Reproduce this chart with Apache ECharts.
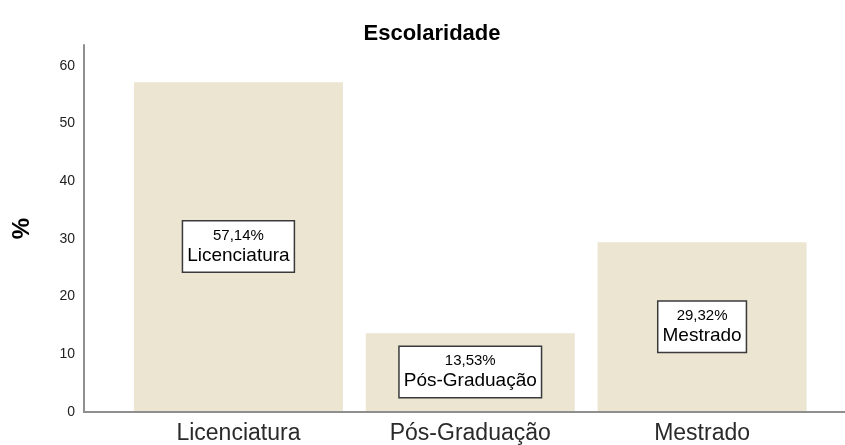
<!DOCTYPE html>
<html>
<head>
<meta charset="utf-8">
<script src="https://cdn.jsdelivr.net/npm/echarts@6/dist/echarts.min.js"></script>
<style>html,body{margin:0;padding:0;background:#fff;}#c{width:845px;height:445px;}</style>
</head>
<body>
<div id="c"></div>
<script>
const categories = ['Licenciatura', 'Pós-Graduação', 'Mestrado'];
const percentValues = [57.14, 13.53, 29.32];
const valueLabels = ['57,14%', '13,53%', '29,32%'];
const yTicks = [0, 10, 20, 30, 40, 50, 60];
const yMax = 63.6;

const chart = echarts.init(document.getElementById('c'), null, {renderer: 'canvas'});
const font = '"Liberation Sans", Arial, sans-serif';
const axisGray = '#8f8f8f';

chart.setOption({
  animation: false,
  title: {
    text: 'Escolaridade',
    left: 427, top: 18, textAlign: 'center',
    textStyle: {fontFamily: font, fontWeight: 'bold', fontSize: 22, color: '#000'}
  },
  grid: [
    {left: 84, right: 0, top: 45, bottom: 33},
    {left: 122.5, right: 27, top: 45, bottom: 33}
  ],
  xAxis: [
    {gridIndex: 0, type: 'value', min: 0, max: 1, axisLabel: {show: false}, axisTick: {show: false},
     splitLine: {show: false}, axisLine: {show: true, lineStyle: {color: axisGray, width: 2}}},
    {gridIndex: 1, type: 'category', data: categories, axisLine: {show: false}, axisTick: {show: false},
     axisLabel: {fontFamily: font, fontSize: 23, color: '#2a2a2a', margin: 11}}
  ],
  yAxis: [
    {gridIndex: 0, type: 'value', min: 0, max: yMax, interval: 10,
     axisLine: {show: true, lineStyle: {color: axisGray, width: 2}}, axisTick: {show: false},
     splitLine: {show: false},
     axisLabel: {fontFamily: font, fontSize: 14, color: '#222', margin: 9, showMaxLabel: false,
       formatter: v => yTicks.includes(v) ? String(v) : ''},
     name: '%', nameLocation: 'middle', nameRotate: 90, nameGap: 50,
     nameTextStyle: {fontFamily: font, fontWeight: 'bold', fontSize: 24, color: '#000'}},
    {gridIndex: 1, type: 'value', min: 0, max: yMax, show: false, splitLine: {show: false}}
  ],
  series: [{
    type: 'bar', xAxisIndex: 1, yAxisIndex: 1,
    data: percentValues, barWidth: 209,
    itemStyle: {color: '#ebe5d2'},
    label: {
      show: true, position: 'inside',
      formatter: p => '{a|' + valueLabels[p.dataIndex] + '}\n{b|' + categories[p.dataIndex] + '}',
      backgroundColor: '#fff', borderColor: '#3a3a3a', borderWidth: 1.5,
      padding: [5, 4, 5, 4],
      rich: {
        a: {fontFamily: font, fontSize: 15, lineHeight: 18, color: '#000', align: 'center'},
        b: {fontFamily: font, fontSize: 19, lineHeight: 22, color: '#000', align: 'center'}
      }
    }
  }]
});
</script>
</body>
</html>
